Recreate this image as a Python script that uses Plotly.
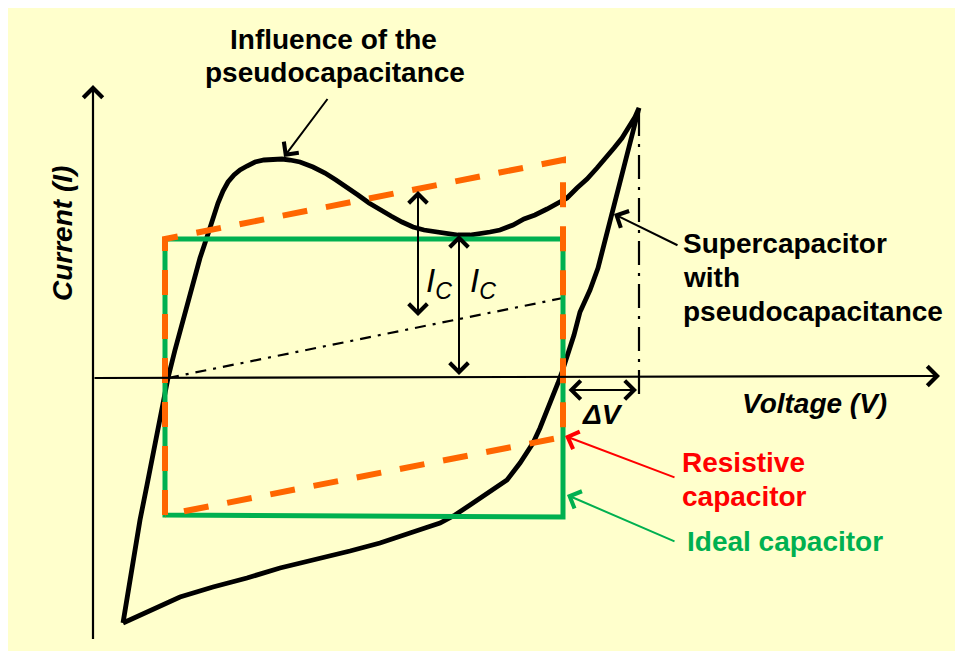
import plotly.graph_objects as go

# ---- data (pixel coordinates of the schematic) ----
cv_x = [123, 128, 133, 140, 147, 155, 162, 168, 175, 182, 188, 194, 200, 208, 213, 218, 223, 228, 234, 240,
        247, 255, 264, 273, 282, 290, 300, 313, 325, 336, 347, 358, 369, 380, 391, 402, 413, 424, 435, 447,
        458, 470, 480, 490, 500, 513, 524, 535, 547, 557, 567, 577, 587, 597, 606, 614, 622, 630, 635, 639,
        632, 625, 618, 612, 605, 598, 590, 584, 580, 574, 567, 562, 558, 552, 547, 540, 533, 520, 507, 493,
        480, 470, 455, 440, 425, 413, 395, 380, 350, 320, 280, 247, 213, 180, 147, 123]
cv_y = [623, 592, 560, 520, 485, 445, 410, 378, 350, 324, 300, 278, 258, 234, 218, 203, 191, 182, 175, 170,
        166, 162, 160, 159, 159, 160, 162, 167, 173, 180, 187, 195, 203, 210, 216, 222, 227, 230, 232, 234,
        235, 235, 234, 232, 230, 225, 219, 215, 209, 204, 198, 188, 179, 168, 158, 148, 138, 126, 117, 108,
        135, 162, 190, 215, 242, 268, 290, 302, 312, 335, 358, 372, 383, 398, 412, 428, 443, 463, 480, 490,
        499, 505, 515, 523, 528, 532, 538, 543, 551, 558, 568, 578, 587, 597, 612, 623]

ideal_x = [165, 563, 563, 165, 165]
ideal_y = [239, 239, 517, 515, 239]

resistive_x = [165, 165, 563, 563, 165]
resistive_y = [515, 239, 160, 437, 515]

baseline_x = [168, 563]
baseline_y = [378, 298]

vmax_x = [639, 639]
vmax_y = [112, 398]

YELLOW = "#FFFFCC"
GREEN = "#00B050"
ORANGE = "#FF6600"
RED = "#FF0000"
FONT = "Liberation Sans, Arial, sans-serif"

fig = go.Figure()

fig.add_trace(go.Scatter(x=cv_x, y=cv_y, mode="lines",
                         line=dict(color="black", width=4.8), hoverinfo="skip"))
fig.add_trace(go.Scatter(x=baseline_x, y=baseline_y, mode="lines",
                         line=dict(color="black", width=2.2, dash="11px,7px,3px,7px"), hoverinfo="skip"))
fig.add_trace(go.Scatter(x=vmax_x, y=vmax_y, mode="lines",
                         line=dict(color="black", width=2.2, dash="24px,8px,3px,8px"), hoverinfo="skip"))
fig.add_trace(go.Scatter(x=ideal_x, y=ideal_y, mode="lines",
                         line=dict(color=GREEN, width=5), hoverinfo="skip"))
fig.add_trace(go.Scatter(x=resistive_x, y=resistive_y, mode="lines",
                         line=dict(color=ORANGE, width=6, dash="25px,19px"), hoverinfo="skip"))


def arrow(x, y, ax, ay, color="black", width=2, both=False, size=1.8):
    fig.add_annotation(x=x, y=y, ax=ax, ay=ay, xref="x", yref="y", axref="x", ayref="y",
                       text=" ", showarrow=True, arrowhead=4, arrowsize=size, arrowwidth=width,
                       arrowcolor=color, arrowside="end+start" if both else "end",
                       standoff=0, startstandoff=0, startarrowhead=4, startarrowsize=size,
                       font=dict(size=1))

# axes
arrow(93, 85, 93, 641, width=2.2, size=1.7)
arrow(940, 376, 93, 378, width=2.2, size=1.7)
# I_C and delta V double arrows
arrow(418, 191, 418, 318, both=True)
arrow(459, 235, 459, 377, both=True)
arrow(637, 390, 567, 390, both=True)
# label pointers
arrow(284, 157, 329, 97)
arrow(614, 214, 679, 246)
arrow(565, 436, 676, 478, color=RED)
arrow(567, 495, 676, 542, color=GREEN)


def label(x, y, text, color="black", size=28, anchor="center", angle=0):
    fig.add_annotation(x=x, y=y, xref="x", yref="y", text=text, showarrow=False,
                       xanchor=anchor, yanchor="middle", textangle=angle,
                       font=dict(family=FONT, size=size, color=color))

label(333, 39, "<b>Influence of the</b>")
label(335, 72, "<b>pseudocapacitance</b>")
label(681, 243, "<b>Supercapacitor</b>", anchor="left")
label(681, 277, "<b>with</b>", anchor="left")
label(681, 311, "<b>pseudocapacitance</b>", anchor="left")
label(680, 462, "<b>Resistive</b>", color=RED, anchor="left")
label(680, 496, "<b>capacitor</b>", color=RED, anchor="left")
label(685, 541, "<b>Ideal capacitor</b>", color=GREEN, anchor="left")
label(814, 403, "<b><i>Voltage (V)</i></b>")
label(62, 234, "<b><i>Current (I)</i></b>", angle=-90)
label(602, 414, "<b><i>ΔV</i></b>")
label(439, 283, "<i>I<sub>C</sub></i>", size=33)
label(483, 283, "<i>I<sub>C</sub></i>", size=33)

# the page body adds an 8px offset; size the figure so the page does not scroll
fig.update_layout(
    width=955, height=643, autosize=False,
    margin=dict(l=0, r=0, t=0, b=0, pad=0),
    paper_bgcolor=YELLOW, plot_bgcolor=YELLOW,
    showlegend=False,
    xaxis=dict(range=[8, 963], visible=False, fixedrange=True),
    yaxis=dict(range=[651, 8], visible=False, fixedrange=True),
)

fig.write_html("out.html")
